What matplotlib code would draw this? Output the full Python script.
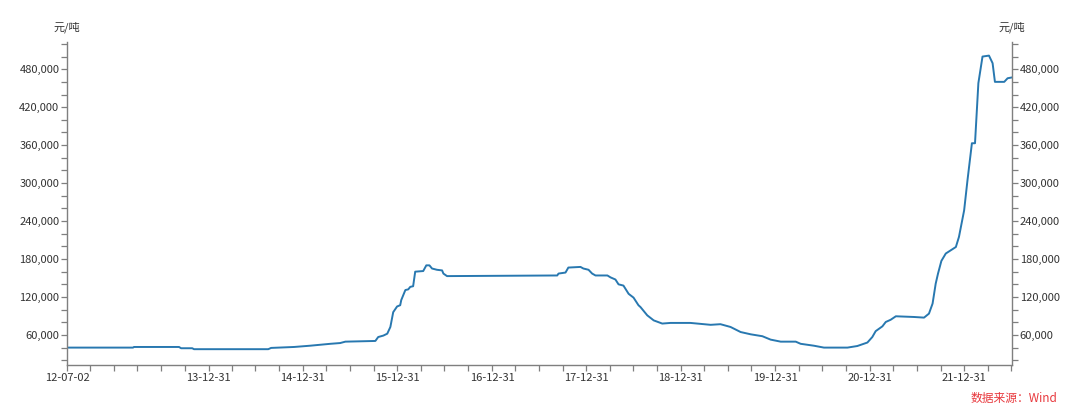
import numpy as np, pandas as pd, matplotlib; matplotlib.use("Agg")
import matplotlib.pyplot as plt
import matplotlib.dates as mdates
from matplotlib.ticker import FixedLocator, FuncFormatter

plt.rcParams['font.family'] = ['Noto Sans CJK SC', 'DejaVu Sans']

# price series (元/吨)
dates = ['2012-07-02','2013-03-14','2013-03-18','2013-09-08','2013-09-16','2013-10-29','2013-11-05',
         '2014-08-19','2014-08-30','2014-11-27','2015-01-28','2015-04-16','2015-05-24','2015-06-13',
         '2015-10-07','2015-10-18','2015-11-07','2015-11-22','2015-12-04','2015-12-15','2015-12-30',
         '2016-01-11','2016-01-15','2016-01-31','2016-02-11','2016-02-19','2016-03-01','2016-03-09',
         '2016-04-09','2016-04-21','2016-05-03','2016-05-13','2016-06-01','2016-06-21','2016-06-26',
         '2016-07-10','2017-09-09','2017-09-14','2017-10-11','2017-10-22','2017-12-08','2017-12-19',
         '2018-01-08','2018-01-22','2018-02-04','2018-03-22','2018-04-03','2018-04-22','2018-05-04',
         '2018-05-23','2018-06-12','2018-07-01','2018-07-20','2018-07-28','2018-08-23','2018-09-17',
         '2018-10-20','2018-11-21','2019-02-06','2019-04-25','2019-06-02','2019-07-11','2019-08-19',
         '2019-09-27','2019-11-11','2019-12-13','2020-01-21','2020-03-19','2020-04-07','2020-05-28',
         '2020-07-06','2020-10-05','2020-11-12','2020-12-21','2021-01-09','2021-01-22','2021-02-17',
         '2021-03-02','2021-03-21','2021-04-10','2021-06-19','2021-07-28','2021-08-16','2021-08-30',
         '2021-09-11','2021-09-20','2021-10-03','2021-10-20','2021-11-28','2021-12-10','2021-12-30',
         '2022-01-12','2022-01-29','2022-02-10','2022-02-23','2022-03-11','2022-04-05','2022-04-19',
         '2022-04-28','2022-06-03','2022-06-16','2022-07-03']
price = [40000,40000,41000,41000,39000,39000,37500,
         37500,39500,41000,43000,46000,47200,49400,
         50500,56700,59000,62000,72600,96000,105000,
         107000,115000,131000,132000,136000,137000,160000,
         161000,170000,170000,165000,163000,162000,157000,
         153000,154000,157000,158600,166500,167500,165000,
         163000,157000,154000,154000,151000,147600,140000,
         138000,125000,119000,107000,104000,91000,83000,
         78000,79000,79000,76000,77000,72600,64600,
         61000,58000,52600,49400,49400,46000,43000,
         40000,40000,42500,48000,56700,66000,73600,
         80500,84000,89500,88400,87400,93700,109600,
         141000,157000,177000,188700,199000,215000,257000,
         304800,363000,363000,458000,500000,501500,489500,
         460000,460000,465700,467000]

major_dates = ['2012-07-02','2013-12-31','2014-12-31','2015-12-31','2016-12-31',
               '2017-12-31','2018-12-31','2019-12-31','2020-12-31','2021-12-31']
yticks_major = [60000,120000,180000,240000,300000,360000,420000,480000]
x0, x1 = pd.Timestamp('2012-07-02'), pd.Timestamp('2022-07-03')
y0, y1 = 12500, 523000

gray = '#7f7f7f'; txt = '#333333'
fig = plt.figure(figsize=(10.8, 4.13), dpi=100)
ax = fig.add_axes([67/1080, 1-365/413, (1012-67)/1080, (365-42)/413])
ax.plot(pd.to_datetime(dates), price, color='#2878b0', lw=1.4)
ax.set_xlim(x0, x1); ax.set_ylim(y0, y1)

# x ticks: labelled year ends, quarter-end minor ticks
ax.xaxis.set_major_locator(FixedLocator(mdates.date2num(pd.to_datetime(major_dates))))
ax.xaxis.set_major_formatter(mdates.DateFormatter('%y-%m-%d'))
q = pd.date_range('2012-09-30', '2022-06-30', freq='QE')
ax.xaxis.set_minor_locator(FixedLocator(mdates.date2num(q)))

ax.yaxis.set_major_locator(FixedLocator(yticks_major))
ax.yaxis.set_minor_locator(FixedLocator(np.arange(20000, 521000, 20000)))
ax.yaxis.set_major_formatter(FuncFormatter(lambda v, p: f"{int(v):,}"))

ax2 = ax.twinx(); ax2.set_ylim(y0, y1)
ax2.yaxis.set_major_locator(FixedLocator(yticks_major))
ax2.yaxis.set_minor_locator(FixedLocator(np.arange(20000, 521000, 20000)))
ax2.yaxis.set_major_formatter(FuncFormatter(lambda v, p: f"{int(v):,}"))

for a in (ax, ax2):
    a.spines['top'].set_visible(False)
    for sp in ['left', 'right', 'bottom']:
        a.spines[sp].set_color(gray); a.spines[sp].set_linewidth(1.0)
    a.tick_params(which='both', length=4, width=0.9, color=gray, labelsize=8, labelcolor=txt, pad=1.5)
ax.spines['right'].set_visible(False)
ax2.spines['left'].set_visible(False); ax2.spines['bottom'].set_visible(False)

fig.text(67/1080, 1-27/413, '元/吨', ha='center', va='center', fontsize=8, color=txt)
fig.text(1012/1080, 1-27/413, '元/吨', ha='center', va='center', fontsize=8, color=txt)
fig.text(1057/1080, 1-398/413, '数据来源：Wind', ha='right', va='center', fontsize=8.5, color='#e8383d')

fig.savefig('out.png', dpi=100)
